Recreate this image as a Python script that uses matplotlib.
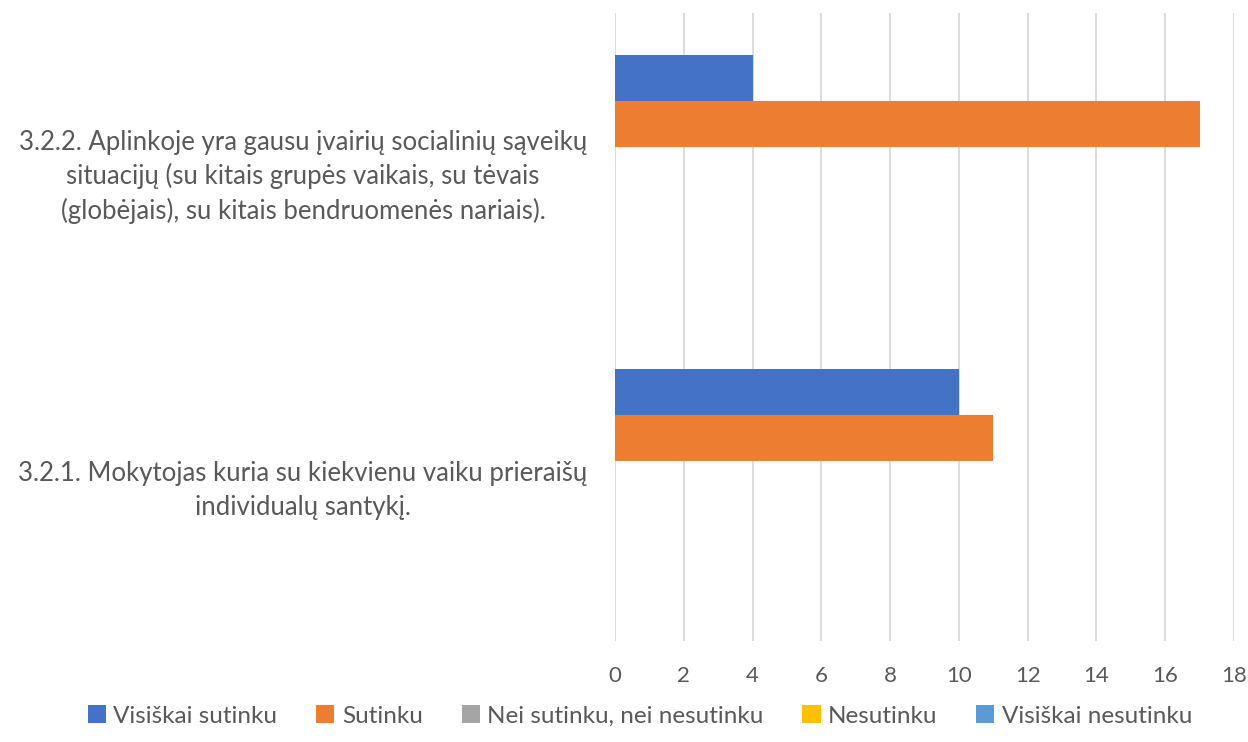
import matplotlib
matplotlib.use("Agg")
import matplotlib.pyplot as plt
from matplotlib.patches import Patch
import numpy as np

plt.rcParams['font.family'] = ['Lato', 'DejaVu Sans']

categories = [
    "3.2.1. Mokytojas kuria su kiekvienu vaiku prieraišų\nindividualų santykį.",
    "3.2.2. Aplinkoje yra gausu įvairių socialinių sąveikų\nsituacijų (su kitais grupės vaikais, su tėvais\n(globėjais), su kitais bendruomenės nariais).",
]
series_names = ["Visiškai sutinku", "Sutinku", "Nei sutinku, nei nesutinku", "Nesutinku", "Visiškai nesutinku"]
visiskai_sutinku = [10, 4]
sutinku = [11, 17]
nei_nei = [0, 0]
nesutinku = [0, 0]
visiskai_nesutinku = [0, 0]
series_values = [visiskai_sutinku, sutinku, nei_nei, nesutinku, visiskai_nesutinku]
colors = ["#4472C4", "#ED7D31", "#A5A5A5", "#FFC000", "#5B9BD5"]
xticks = list(range(0, 19, 2))

fig = plt.figure(figsize=(12.48, 7.42), dpi=100)
ax = fig.add_axes([615/1248, 1-641/742, (1234-615)/1248, (641-13)/742])

y = np.arange(len(categories))
h = 0.146
for i, (vals, c) in enumerate(zip(series_values, colors)):
    ax.barh(y + (2 - i) * h, vals, height=h, color=c, zorder=3)

ax.set_xlim(0, 18)
ax.set_ylim(-0.5, 1.5)
ax.set_xticks(xticks)
ax.set_xticklabels([str(t) for t in xticks], fontsize=16, color="#595959")
ax.set_yticks(y)
ax.set_yticklabels(categories, fontsize=18.5, color="#595959", multialignment="center",
                   linespacing=1.4)
ax.tick_params(axis='x', length=0, pad=18)
ax.tick_params(axis='y', length=0, pad=20)
ax.grid(axis='x', color="#D9D9D9", linewidth=1.3, zorder=0)
for s in ax.spines.values():
    s.set_visible(False)

handles = [Patch(facecolor=c, label=n) for n, c in zip(series_names, colors)]
fig.legend(handles=handles, loc='center', bbox_to_anchor=(640/1248, 1-716/742), ncol=5,
           frameon=False, fontsize=17.5, handlelength=0.75, handleheight=0.75,
           handletextpad=0.3, columnspacing=1.6, labelcolor="#595959")

fig.savefig("out.png", dpi=100)
